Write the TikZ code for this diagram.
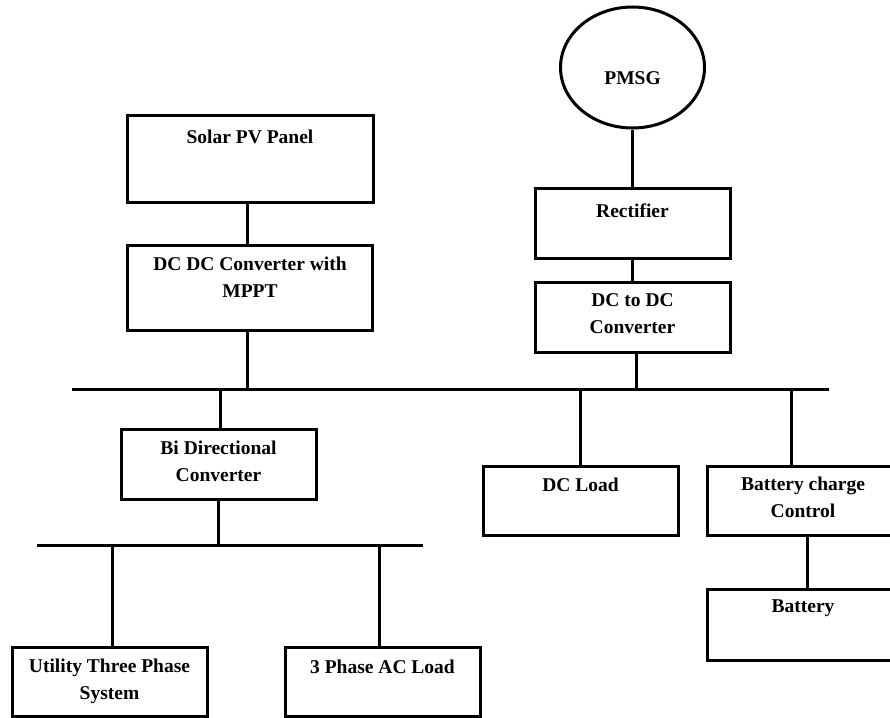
\documentclass[tikz,border=0pt]{standalone}
\usepackage{fontspec}
\setmainfont{Liberation Serif}
\usetikzlibrary{positioning, shapes.geometric}

\tikzset{
  blk/.style={draw, line width=3pt, inner sep=0pt},
  lbl/.style={font=\bfseries\fontsize{19.5}{27}\selectfont, align=center, inner sep=0pt},
  wire/.style={line width=3pt},
}

\begin{document}
\begin{tikzpicture}[x=1pt, y=-1pt]
    \useasboundingbox (0,0) rectangle (890,717);
    \fill[white] (0,0) rectangle (890,717);
    \clip (0,0) rectangle (890,717);

    % ── Sources ──────────────────────────────────────────────
    \node[blk, minimum width=246pt, minimum height=87pt] (solar) at (250,158.5) {};
    \node[lbl, below=16pt of solar.north] (solar-t) {Solar PV Panel};

    \node[blk, minimum width=245pt, minimum height=85pt] (mppt) at (250,287.5) {};
    \node[lbl, below=13pt of mppt.north] (mppt-t) {DC DC Converter with\\MPPT};

    \node[blk, ellipse, minimum width=144pt, minimum height=121pt] (pmsg) at (632.5,67.5) {};
    \node[lbl, below=66pt of pmsg.north] (pmsg-t) {PMSG};

    \node[blk, minimum width=195pt, minimum height=70pt] (rect) at (632.5,223) {};
    \node[lbl, below=17pt of rect.north] (rect-t) {Rectifier};

    \node[blk, minimum width=195pt, minimum height=70pt] (dcdc) at (632.5,317) {};
    \node[lbl, below=13pt of dcdc.north] (dcdc-t) {DC to DC\\Converter};

    \draw[wire] ([xshift=-3pt]solar.south) -- ([xshift=-3pt]mppt.north);
    \draw[wire] (pmsg.south) -- (rect.north);
    \draw[wire] (rect.south) -- (dcdc.north);

    % ── DC bus ───────────────────────────────────────────────
    \coordinate (busL) at (72,389);
    \coordinate (busR) at (829,389);
    \draw[wire] (busL) -- (busR);

    \draw[wire] ([xshift=-3pt]mppt.south) -- ([xshift=-3pt]mppt.south |- busL);
    \draw[wire] ([xshift=4pt]dcdc.south) -- ([xshift=4pt]dcdc.south |- busL);

    % ── Loads on the DC bus ──────────────────────────────────
    \node[blk, minimum width=195pt, minimum height=70pt] (bidir) at (218.5,464) {};
    \node[lbl, below=13pt of bidir.north] (bidir-t) {Bi Directional\\Converter};

    \node[blk, minimum width=195pt, minimum height=69pt] (dcload) at (580.5,500.5) {};
    \node[lbl, below=13pt of dcload.north] (dcload-t) {DC Load};

    \node[blk, minimum width=192pt, minimum height=69pt] (bcc) at (803,500.5) {};
    \node[lbl, below=12pt of bcc.north] (bcc-t) {Battery charge\\Control};

    \node[blk, minimum width=192pt, minimum height=71pt] (batt) at (803,624.5) {};
    \node[lbl, below=12pt of batt.north] (batt-t) {Battery};

    \draw[wire] ([xshift=2pt]bidir.north |- busL) -- ([xshift=2pt]bidir.north);
    \draw[wire] (dcload.north |- busL) -- (dcload.north);
    \draw[wire] ([xshift=-12pt]bcc.north |- busL) -- ([xshift=-12pt]bcc.north);
    \draw[wire] ([xshift=4pt]bcc.south) -- ([xshift=4pt]batt.north);

    % ── AC side ──────────────────────────────────────────────
    \coordinate (acL) at (37,545);
    \coordinate (acR) at (423,545);
    \draw[wire] (acL) -- (acR);
    \draw[wire] (bidir.south) -- (bidir.south |- acL);

    \node[blk, minimum width=195pt, minimum height=69pt] (grid) at (109.5,681.5) {};
    \node[lbl, below=13pt of grid.north] (grid-t) {Utility Three Phase\\System};

    \node[blk, minimum width=195pt, minimum height=69pt] (acload) at (382.5,681.5) {};
    \node[lbl, below=14pt of acload.north] (acload-t) {3 Phase AC Load};

    \draw[wire] ([xshift=3pt]grid.north |- acL) -- ([xshift=3pt]grid.north);
    \draw[wire] ([xshift=-3pt]acload.north |- acL) -- ([xshift=-3pt]acload.north);
\end{tikzpicture}
\end{document}
